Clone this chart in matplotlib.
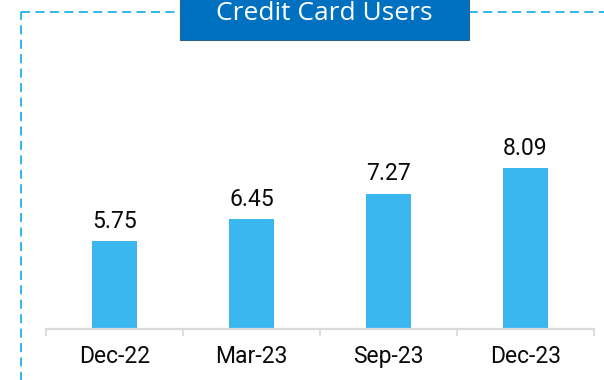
import matplotlib
matplotlib.use("Agg")
import matplotlib.pyplot as plt
from matplotlib.patches import Rectangle
from matplotlib.lines import Line2D

# Data
periods = ["Dec-22", "Mar-23", "Sep-23", "Dec-23"]
users = [5.75, 6.45, 7.27, 8.09]
title = "Credit Card Users"

W, H = 604, 380
DPI = 100
fig = plt.figure(figsize=(W / DPI, H / DPI), dpi=DPI)
fig.patch.set_facecolor("white")

label_font = "Roboto"
bar_color = "#3BB7EF"
axis_gray = "#D9D9D9"


def px(x, y):
    """Pixel position (from top-left) -> figure fraction."""
    return x / W, 1 - y / H


# Plot area
left_px, right_px = 46, 594
base_px, top_px = 328.5, 60
ax = fig.add_axes([left_px / W, (H - base_px) / H,
                   (right_px - left_px) / W, (base_px - top_px) / H])
ax.set_facecolor("none")

xs = list(range(len(periods)))
bars = ax.bar(xs, users, width=0.33, color=bar_color, zorder=2)

ax.set_xlim(-0.5, len(periods) - 0.5)
ax.set_ylim(2.95, 2.95 + (base_px - top_px) / 31.2)

for s in ("top", "right", "left"):
    ax.spines[s].set_visible(False)
ax.spines["bottom"].set_color(axis_gray)
ax.spines["bottom"].set_linewidth(1.6)
ax.set_yticks([])

# Category boundaries as tick marks, labels centred under the bars
ax.set_xticks([i - 0.5 for i in range(len(periods) + 1)])
ax.set_xticklabels([])
ax.tick_params(axis="x", which="major", length=5, width=1.3,
               color=axis_gray, direction="out")
ax.set_xticks(xs, minor=True)
ax.set_xticklabels(periods, minor=True, fontsize=16.5,
                   family=label_font, color="#0A0A0A")
ax.tick_params(axis="x", which="minor", length=0, pad=12)

for x, v in zip(xs, users):
    ax.annotate(f"{v:.2f}", xy=(x, v), xytext=(0, 6),
                textcoords="offset points", ha="center", va="bottom",
                fontsize=16.5, family=label_font, color="#0A0A0A")

# Dashed frame around the panel
dash_color = "#1EB2EE"
frame_kw = dict(color=dash_color, linewidth=1.3, linestyle=(0, (5, 3)),
                transform=fig.transFigure)
x0, y0 = px(21, 11.5)
_, yb = px(21, H + 5)
xr, _ = px(W + 5, 11.5)
fig.add_artist(Line2D([x0, x0], [yb, y0], **frame_kw))
fig.add_artist(Line2D([x0, xr], [y0, y0], **frame_kw))

# Title tab
bx0, by1 = px(179.5, 40)
bx1, by0 = px(468.5, -2)
fig.add_artist(Rectangle((bx0, by1), bx1 - bx0, by0 - by1,
                         transform=fig.transFigure, facecolor="#0070C0",
                         edgecolor="#2F5F8A", linewidth=0.8, zorder=5))
tx, ty = px(324, 20.5)
fig.text(tx, ty, title, ha="center", va="baseline", color="white",
         fontsize=19, family="Open Sans", zorder=6)

fig.savefig("out.png", dpi=DPI, facecolor="white")
